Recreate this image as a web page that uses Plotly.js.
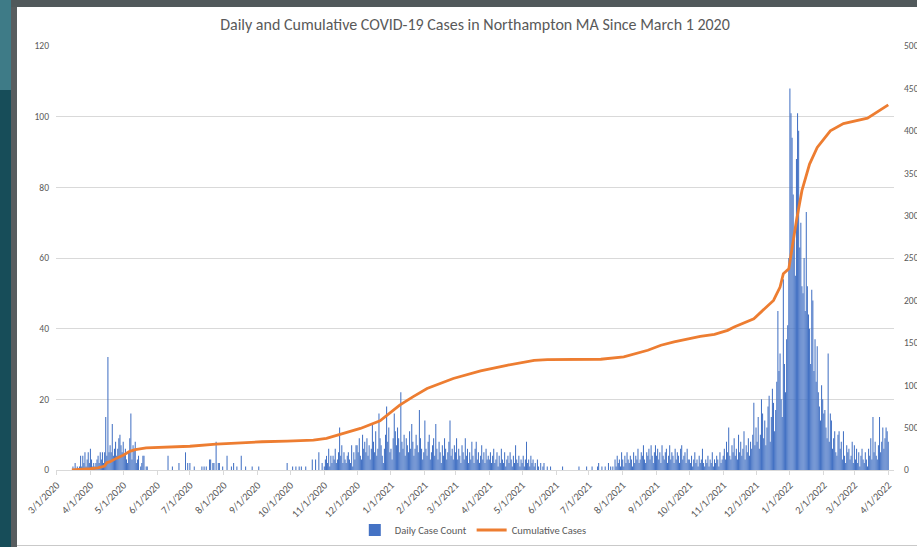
<!DOCTYPE html>
<html>
<head>
<meta charset="utf-8">
<script src="https://cdn.plot.ly/plotly-3.0.1.min.js"></script>
<style>
html,body{margin:0;padding:0;width:917px;height:547px;overflow:hidden;background:#ffffff;}
#tealTop{position:absolute;left:0;top:0;width:11px;height:90px;background:#3e7b87;}
#tealBot{position:absolute;left:0;top:90px;width:11px;height:457px;background:#174d59;}
#grayL{position:absolute;left:11px;top:0;width:6px;height:547px;background:#585d5f;}
#grayT{position:absolute;left:11px;top:0;width:906px;height:7px;background:#51595b;}
#chart{position:absolute;left:17px;top:7px;width:900px;height:538px;}
#botLine{position:absolute;left:17px;top:545px;width:900px;height:1px;background:#c9c9c9;}
</style>
</head>
<body>
<div id="tealTop"></div><div id="tealBot"></div><div id="grayL"></div><div id="grayT"></div>
<div id="chart"></div>
<div id="botLine"></div>
<script>
// Daily case counts, one inner array per month (starting March 2020)
const daily2020 = [
  /*Mar*/[0,0,0,0,0,0,0,0,0,0,0,0,0,0,0,1,0,2,0,1,0,1,4,1,4,2,5,1,3,5,2],
  /*Apr*/[6,3,1,2,1,2,3,4,2,5,3,5,2,5,15,4,32,5,7,5,13,4,6,8,4,6,9,10,7,5],
  /*May*/[8,4,6,3,2,5,9,16,3,7,6,8,2,3,4,0,1,2,4,4,0,1,1,0,0,0,0,0,0,0,0],
  /*Jun*/[0,0,0,0,0,0,0,0,0,0,4,0,0,0,1,0,0,0,0,0,2,0,0,0,0,0,5,0,2,0],
  /*Jul*/[2,0,0,0,1,0,0,0,0,0,0,1,0,1,0,1,0,0,3,3,0,2,2,0,8,0,2,2,0,0,1],
  /*Aug*/[0,0,0,4,0,0,0,1,0,2,0,0,1,0,0,0,4,0,0,0,1,0,0,0,0,0,1,0,0,0,0],
  /*Sep*/[0,1,0,0,0,0,0,0,0,0,0,0,0,0,0,0,0,0,0,0,0,0,0,0,0,0,0,2,0,0],
  /*Oct*/[0,0,1,0,0,1,0,0,1,0,1,0,0,0,1,0,0,0,0,0,3,0,0,3,0,0,5,0,0,2,0],
  /*Nov*/[1,3,4,2,6,1,4,2,4,3,6,2,3,5,12,4,7,2,5,3,2,4,5,3,2,7,1,5,3,7],
  /*Dec*/[7,5,9,4,3,10,6,8,5,9,4,7,3,6,13,8,5,11,4,6,16,9,7,4,2,6,10,18,8,12,5]
];
const daily2021 = [
  /*Jan*/[6,3,9,16,11,7,12,9,5,22,8,6,10,4,9,7,5,11,6,13,8,4,6,10,7,5,17,9,6,3,5],
  /*Feb*/[14,6,4,8,10,3,5,7,9,4,13,6,3,8,5,2,7,4,9,6,3,5,8,14,4,6,3,7],
  /*Mar*/[5,9,3,6,4,2,7,5,3,9,4,6,2,5,3,8,4,2,6,8,3,5,2,4,7,3,5,2,6,3,4],
  /*Apr*/[3,5,2,4,6,2,3,5,1,4,2,6,3,2,5,1,3,4,2,5,3,1,4,2,7,3,2,4,1,3],
  /*May*/[2,4,1,3,8,2,3,1,4,2,3,1,2,0,3,1,0,2,0,1,2,0,0,1,0,0,1,0,0,0,0],
  /*Jun*/[0,0,0,0,0,0,1,0,0,0,0,0,0,0,0,0,0,0,0,0,0,1,0,0,0,0,0,0,1,0],
  /*Jul*/[0,0,0,1,0,0,0,0,1,2,0,0,1,0,0,1,0,0,2,0,1,0,1,0,3,1,4,2,3,1,5],
  /*Aug*/[3,1,4,2,5,3,2,4,3,1,5,2,4,3,6,2,3,5,4,7,3,2,5,4,6,3,7,4,2,5,7],
  /*Sep*/[4,6,3,5,2,7,4,3,5,6,2,4,7,3,5,4,2,6,3,5,4,2,6,7,3,4,5,2,6,3],
  /*Oct*/[3,2,4,1,3,5,2,3,1,4,2,3,6,2,1,3,2,4,1,3,2,5,1,3,2,4,3,1,5,2,3],
  /*Nov*/[4,6,3,8,5,12,4,3,7,5,9,4,6,3,10,5,8,4,6,11,3,7,5,9,4,8,6,10,19,7],
  /*Dec*/[12,8,15,6,10,20,16,9,14,7,12,18,21,8,15,23,19,11,17,25,45,28,33,20,15,54,30,22,37,41,60]
];
const daily2022 = [
  /*Jan*/[108,101,94,78,67,55,88,101,96,63,70,52,50,60,45,73,52,44,40,30,51,48,28,37,25,35,22,18,14,24,20],
  /*Feb*/[16,17,12,9,33,8,16,14,6,9,11,5,4,10,11,6,8,3,11,4,2,7,5,6,3,4,8,2],
  /*Mar*/[7,3,6,2,5,1,4,6,3,2,5,3,1,6,4,9,3,15,5,8,4,3,7,15,5,8,12,6,9,12,11],
  /*Apr*/[8]
];

// Cumulative cases
const cumDates = ["2020-03-15","2020-03-25","2020-04-01","2020-04-08","2020-04-14","2020-04-16","2020-04-19","2020-04-25","2020-05-01","2020-05-07","2020-05-12","2020-05-22","2020-06-01","2020-06-15","2020-07-01","2020-07-25","2020-08-04","2020-08-20","2020-09-05","2020-09-28","2020-10-22","2020-11-03","2020-11-16","2020-12-04","2020-12-22","2021-01-09","2021-01-21","2021-02-03","2021-02-27","2021-03-24","2021-04-17","2021-05-12","2021-05-24","2021-07-12","2021-08-02","2021-08-24","2021-09-05","2021-09-17","2021-10-11","2021-10-24","2021-11-05","2021-11-11","2021-11-29","2021-12-17","2021-12-23","2021-12-26","2021-12-31","2022-01-03","2022-01-07","2022-01-12","2022-01-19","2022-01-26","2022-02-07","2022-02-19","2022-03-13","2022-04-01"];
const cumValues = [0,5,15,25,47,85,98,140,175,220,240,262,265,268,280,306,314,325,333,341,353,373,424,490,580,765,862,961,1079,1168,1235,1294,1302,1306,1333,1412,1471,1510,1576,1600,1647,1686,1784,2000,2157,2314,2373,2627,2941,3294,3608,3804,4000,4086,4149,4306];

const tickLabels = ["3/1/2020","4/1/2020","5/1/2020","6/1/2020","7/1/2020","8/1/2020","9/1/2020","10/1/2020","11/1/2020","12/1/2020","1/1/2021","2/1/2021","3/1/2021","4/1/2021","5/1/2021","6/1/2021","7/1/2021","8/1/2021","9/1/2021","10/1/2021","11/1/2021","12/1/2021","1/1/2022","2/1/2022","3/1/2022","4/1/2022"];

const titleText = "Daily and Cumulative COVID-19 Cases in Northampton MA Since March 1 2020";

function pad(n){ return n < 10 ? "0" + n : "" + n; }
const dayX = [], dayY = [];
function addYear(year, firstMonth, months){
  months.forEach(function(m, i){
    m.forEach(function(v, d){
      dayX.push(year + "-" + pad(firstMonth + i) + "-" + pad(d + 1));
      dayY.push(v);
    });
  });
}
addYear(2020, 3, daily2020);
addYear(2021, 1, daily2021);
addYear(2022, 1, daily2022);

const tickVals = tickLabels.map(function(t){
  const p = t.split("/");
  return p[2] + "-" + pad(+p[0]) + "-" + pad(+p[1]);
});

const FONT = "Carlito, Lato, 'Open Sans', sans-serif";
const GREY = "#595959";

const traces = [
  {type:"bar", x:dayX, y:dayY, name:"Daily Case Count", yaxis:"y",
   marker:{color:"#4472C4", line:{width:0}}},
  {type:"scatter", mode:"lines", x:cumDates, y:cumValues, name:"Cumulative Cases", yaxis:"y2",
   line:{color:"#ED7D31", width:2.8}}
];

const layout = {
  width:900, height:538,
  margin:{l:39, r:23, t:39, b:75, pad:0, autoexpand:false},
  paper_bgcolor:"#ffffff", plot_bgcolor:"#ffffff",
  bargap:0.05,
  font:{family:FONT, color:GREY, size:9.5},
  title:{text:titleText, font:{family:FONT, size:16, color:GREY},
         x:0.5, xref:"paper", xanchor:"center", y:1 - 17/538, yref:"container", yanchor:"middle"},
  xaxis:{type:"date", range:["2020-02-29 12:00","2022-04-06 06:00"], automargin:false,
         tickmode:"array", tickvals:tickVals, ticktext:tickLabels, tickangle:-45,
         showgrid:false, zeroline:false, showline:true, linecolor:"#d9d9d9", linewidth:1,
         ticks:"outside", ticklen:4, tickcolor:"#d9d9d9", tickwidth:1,
         tickfont:{family:FONT, size:10.5, color:GREY}},
  yaxis:{range:[0,120], tick0:0, dtick:20, showgrid:true, gridcolor:"#d9d9d9", gridwidth:1,
         zeroline:false, showline:false, ticks:"", ticklabelstandoff:6, automargin:false,
         tickfont:{family:FONT, size:9.5, color:GREY}},
  yaxis2:{overlaying:"y", side:"right", range:[0,5000], tick0:0, dtick:500, showgrid:false,
          zeroline:false, showline:false, ticks:"", ticklabelstandoff:9, automargin:false,
          tickfont:{family:FONT, size:9.5, color:GREY}},
  legend:{orientation:"h", x:0.507, xref:"container", xanchor:"center",
          y:1 - 523/538, yref:"container", yanchor:"middle",
          font:{family:FONT, size:10.5, color:GREY}, bgcolor:"rgba(0,0,0,0)"},
  showlegend:true
};

Plotly.newPlot("chart", traces, layout, {staticPlot:true, displayModeBar:false});
</script>
</body>
</html>
